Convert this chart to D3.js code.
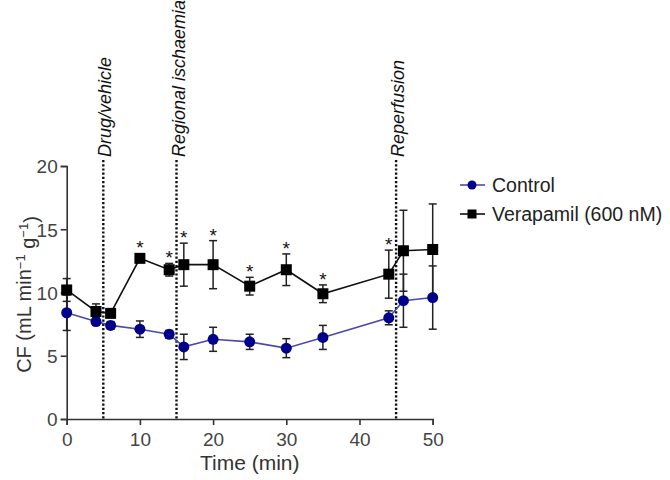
<!DOCTYPE html>
<html>
<head>
<meta charset="utf-8">
<script src="https://cdn.jsdelivr.net/npm/d3@7"></script>
<style>
  body { margin: 0; background: #fff; }
  svg { display: block; }
  text { font-family: "Liberation Sans", Arial, sans-serif; }
</style>
</head>
<body>
<script>
// ---- data ----
const times = [0, 4, 6, 10, 14, 16, 20, 25, 30, 35, 44, 46, 50];
const controlMean = [8.4, 7.7, 7.4, 7.1, 6.7, 5.7, 6.3, 6.1, 5.6, 6.45, 8.0, 9.35, 9.6];
const controlErr  = [1.4, 0.3, 0.3, 0.65, 0.3, 1.0, 0.95, 0.6, 0.75, 0.95, 0.55, 2.1, 2.5];
const verMean = [10.2, 8.5, 8.35, 12.7, 11.8, 12.2, 12.2, 10.5, 11.8, 9.9, 11.45, 13.3, 13.4];
const verErr  = [0.9, 0.6, 0.3, 0.2, 0.5, 1.7, 1.9, 0.7, 1.25, 0.7, 1.9, 3.2, 3.6];
const verSignificant = [false, false, false, true, true, true, true, true, true, true, true, false, false];
const events = [
  { t: 5, label: "Drug/vehicle" },
  { t: 15, label: "Regional ischaemia" },
  { t: 45, label: "Reperfusion" }
];
const xTicks = [0, 10, 20, 30, 40, 50];
const yTicks = [0, 5, 10, 15, 20];
const seriesNames = ["Control", "Verapamil (600 nM)"];

// ---- layout ----
const W = 670, H = 480;
const svg = d3.select("body").append("svg").attr("width", W).attr("height", H);
svg.append("rect").attr("width", W).attr("height", H).attr("fill", "#fff");

const x = d3.scaleLinear().domain([0, 50]).range([66.7, 432.7]);
const y = d3.scaleLinear().domain([0, 20]).range([419, 166]);

const axisColor = "#333";

// axes
const gx = svg.append("g").attr("transform", `translate(0,${y(0)})`)
  .call(d3.axisBottom(x).tickValues(xTicks).tickSize(6).tickPadding(3));
const gy = svg.append("g").attr("transform", `translate(${x(0)},0)`)
  .call(d3.axisLeft(y).tickValues(yTicks).tickSize(6).tickPadding(3));
[gx, gy].forEach(g => {
  g.select(".domain").attr("stroke", axisColor).attr("stroke-width", 1.6);
  g.selectAll(".tick line").attr("stroke", axisColor).attr("stroke-width", 1.6);
  g.selectAll(".tick text").attr("fill", "#444").style("font-size", "19px")
    .style("font-family", '"Liberation Sans", Arial, sans-serif');
});
gx.selectAll(".tick text").attr("dy", "0.95em");
gy.selectAll(".tick text").attr("dy", "0.36em");

// axis titles
svg.append("text").attr("x", (x(0) + x(50)) / 2).attr("y", 470)
  .attr("text-anchor", "middle").attr("fill", "#333").style("font-size", "21px")
  .text("Time (min)");
const yl = svg.append("text")
  .attr("transform", `translate(31,${(y(0) + y(20)) / 2 + 2}) rotate(-90)`)
  .attr("text-anchor", "middle").attr("fill", "#333").style("font-size", "20px");
yl.append("tspan").text("CF (mL min");
yl.append("tspan").attr("dy", "-0.5em").style("font-size", "13px").text("−1");
yl.append("tspan").attr("dy", "0.5em").text(" g");
yl.append("tspan").attr("dy", "-0.5em").style("font-size", "13px").text("−1");
yl.append("tspan").attr("dy", "0.5em").text(")");

// event lines
events.forEach(e => {
  svg.append("line")
    .attr("x1", x(e.t)).attr("x2", x(e.t))
    .attr("y1", 160).attr("y2", y(0))
    .attr("stroke", "#111").attr("stroke-width", 2.4)
    .attr("stroke-dasharray", "2.2,2");
  svg.append("text")
    .attr("transform", `translate(${x(e.t) + 8},157) rotate(-90)`)
    .attr("text-anchor", "start").attr("fill", "#111")
    .style("font-size", "18px").style("font-style", "italic")
    .text(e.label);
});

// series
const series = [
  { name: seriesNames[0], mean: controlMean, err: controlErr, color: "#4a4aa8", fill: "#00008b", shape: "circle" },
  { name: seriesNames[1], mean: verMean, err: verErr, color: "#111", fill: "#000", shape: "square" }
];

const line = d3.line().x(d => x(d.t)).y(d => y(d.v));

// error bars first (drawn below markers)
series.forEach(s => {
  const pts = times.map((t, i) => ({ t, v: s.mean[i], e: s.err[i] }));
  const g = svg.append("g");
  pts.forEach(p => {
    g.append("line").attr("x1", x(p.t)).attr("x2", x(p.t))
      .attr("y1", y(p.v + p.e)).attr("y2", y(p.v - p.e))
      .attr("stroke", "#222").attr("stroke-width", 1.5);
    [p.v + p.e, p.v - p.e].forEach(v => {
      g.append("line").attr("x1", x(p.t) - 4).attr("x2", x(p.t) + 4)
        .attr("y1", y(v)).attr("y2", y(v))
        .attr("stroke", "#222").attr("stroke-width", 1.5);
    });
  });
});

series.forEach(s => {
  const pts = times.map((t, i) => ({ t, v: s.mean[i] }));
  svg.append("path").datum(pts).attr("d", line)
    .attr("fill", "none").attr("stroke", s.color).attr("stroke-width", 1.6);
  const g = svg.append("g");
  pts.forEach(p => {
    if (s.shape === "circle") {
      g.append("circle").attr("cx", x(p.t)).attr("cy", y(p.v)).attr("r", 5.5).attr("fill", s.fill);
    } else {
      g.append("rect").attr("x", x(p.t) - 5.5).attr("y", y(p.v) - 5.5)
        .attr("width", 11).attr("height", 11).attr("fill", s.fill);
    }
  });
});

// significance stars
times.forEach((t, i) => {
  if (!verSignificant[i]) return;
  const top = Math.max(verMean[i] + verErr[i], verMean[i]);
  const yy = Math.min(y(top), y(verMean[i]) - 5.5);
  svg.append("text").attr("x", x(t)).attr("y", yy + 1)
    .attr("text-anchor", "middle").attr("fill", "#111").style("font-size", "19px")
    .text("*");
});

// legend
const leg = svg.append("g");
[185, 214].forEach((ly, i) => {
  const s = series[i];
  leg.append("line").attr("x1", 460).attr("x2", 485).attr("y1", ly).attr("y2", ly)
    .attr("stroke", s.color).attr("stroke-width", 1.6);
  if (s.shape === "circle") {
    leg.append("circle").attr("cx", 472).attr("cy", ly).attr("r", 4.5).attr("fill", s.fill);
  } else {
    leg.append("rect").attr("x", 467.5).attr("y", ly - 4.5).attr("width", 9).attr("height", 9).attr("fill", s.fill);
  }
  leg.append("text").attr("x", 492).attr("y", ly).attr("dy", "0.35em")
    .attr("fill", "#222").style("font-size", "19.5px").text(s.name);
});
</script>
</body>
</html>
